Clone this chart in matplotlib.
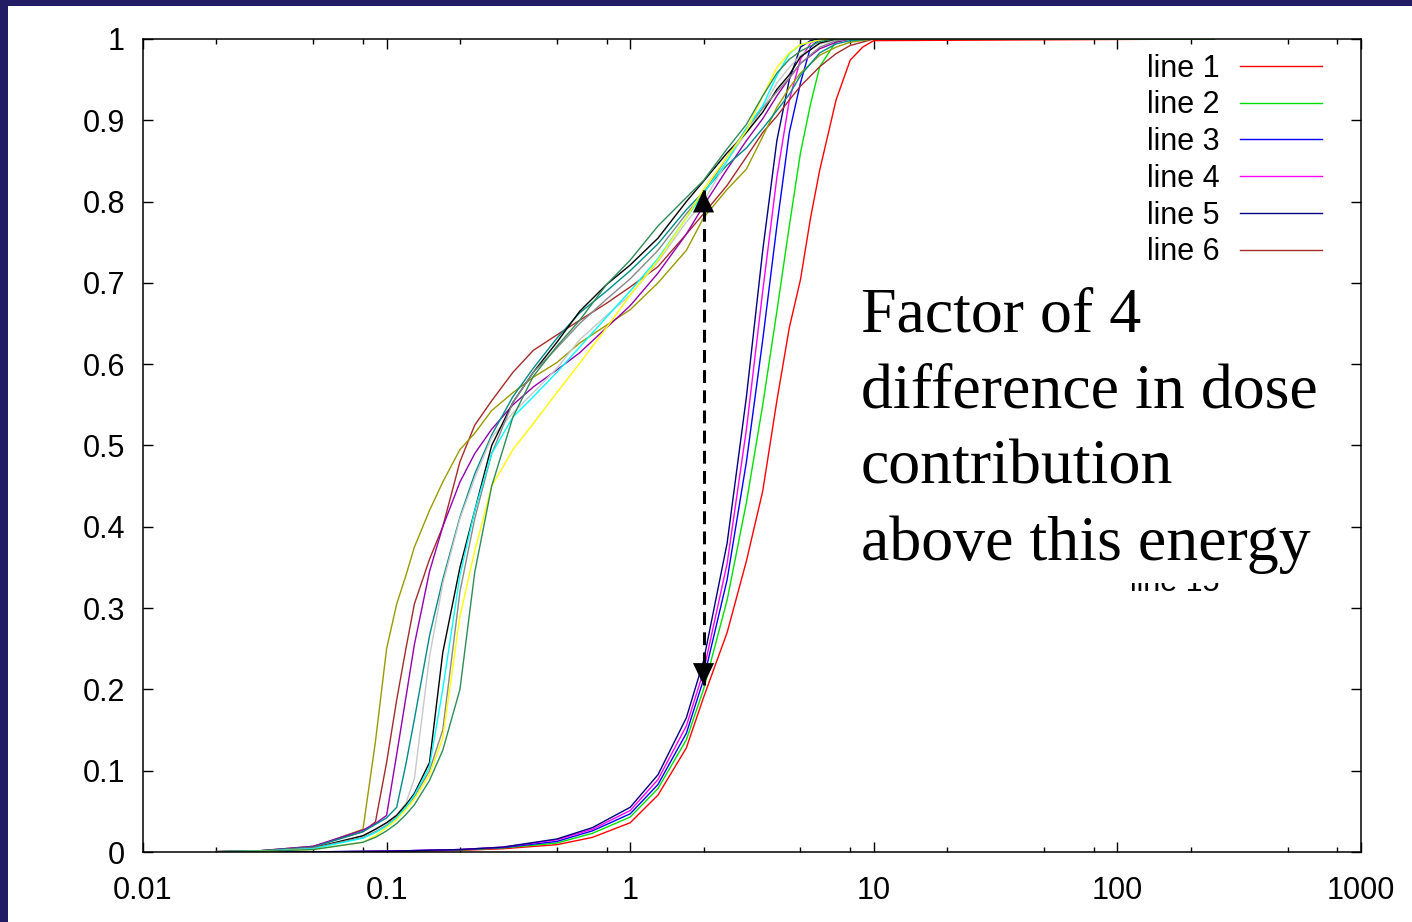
import matplotlib
matplotlib.use('Agg')
import matplotlib.pyplot as plt
from matplotlib.patches import Rectangle
from matplotlib.ticker import LogLocator, FixedLocator, FuncFormatter, NullLocator

# energy grid for the high-energy group (lines 1-5)
x_high = [0.02, 0.05, 0.1, 0.2, 0.3, 0.5, 0.7, 1.0, 1.3, 1.7, 2.0, 2.5, 3.0, 3.5,
          4.0, 4.5, 5.0, 5.5, 6.0, 7.0, 8.0, 9.0, 10, 250]
line1 = [0, 0.0001, 0.0005, 0.002, 0.004, 0.009, 0.018, 0.036, 0.07, 0.128, 0.19, 0.27,
         0.358, 0.444, 0.555, 0.645, 0.704, 0.78, 0.839, 0.925, 0.974, 0.99, 0.998, 1]
line2 = [0, 0.0001, 0.0008, 0.0025, 0.005, 0.011, 0.023, 0.043, 0.078, 0.138, 0.2, 0.31,
         0.43, 0.55, 0.665, 0.77, 0.86, 0.92, 0.966, 0.997, 1, 1, 1, 1]
line3 = [0, 0.0002, 0.001, 0.003, 0.0055, 0.013, 0.026, 0.047, 0.083, 0.146, 0.212, 0.335,
         0.48, 0.63, 0.77, 0.885, 0.946, 0.99, 1, 1, 1, 1, 1, 1]
line4 = [0, 0.0002, 0.001, 0.003, 0.006, 0.015, 0.028, 0.051, 0.089, 0.155, 0.222, 0.355,
         0.52, 0.69, 0.83, 0.925, 0.975, 0.995, 1, 1, 1, 1, 1, 1]
line5 = [0, 0.0002, 0.001, 0.003, 0.006, 0.016, 0.03, 0.055, 0.095, 0.165, 0.235, 0.38,
         0.56, 0.74, 0.875, 0.95, 0.99, 0.998, 1, 1, 1, 1, 1, 1]

# energy grid for the low-energy group (lines 6-15)
x_low = [0.02, 0.03, 0.05, 0.08, 0.09, 0.1, 0.11, 0.12, 0.13, 0.15, 0.17, 0.2, 0.23, 0.27,
         0.33, 0.4, 0.5, 0.62, 0.8, 1.0, 1.3, 1.7, 2.0, 2.5, 3.0, 3.5, 4.0, 4.5, 5.0,
         6.0, 7.0, 8.0, 10, 250]
line6 = [0.0005, 0.0015, 0.007, 0.025, 0.037, 0.11, 0.187, 0.25, 0.305, 0.36, 0.40, 0.48,
         0.525, 0.555, 0.59, 0.617, 0.636, 0.654, 0.675, 0.695, 0.72, 0.76, 0.785, 0.82,
         0.855, 0.885, 0.905, 0.925, 0.942, 0.966, 0.982, 0.992, 1, 1]
line7 = [0.0005, 0.001, 0.006, 0.028, 0.136, 0.25, 0.305, 0.34, 0.375, 0.42, 0.455, 0.495,
         0.515, 0.543, 0.565, 0.584, 0.602, 0.626, 0.648, 0.667, 0.70, 0.74, 0.78, 0.815,
         0.84, 0.88, 0.916, 0.94, 0.958, 0.98, 0.99, 0.996, 1, 1]
line8 = [0.0005, 0.0015, 0.007, 0.027, 0.035, 0.045, 0.12, 0.19, 0.255, 0.345, 0.40, 0.455,
         0.49, 0.52, 0.55, 0.572, 0.593, 0.614, 0.645, 0.672, 0.712, 0.76, 0.795, 0.84,
         0.875, 0.902, 0.93, 0.952, 0.97, 0.988, 0.996, 1, 1, 1]
line9 = [0.0005, 0.0015, 0.006, 0.025, 0.034, 0.042, 0.055, 0.108, 0.163, 0.266, 0.335, 0.412,
         0.465, 0.513, 0.56, 0.595, 0.632, 0.663, 0.69, 0.715, 0.748, 0.79, 0.812, 0.845,
         0.866, 0.89, 0.912, 0.932, 0.955, 0.983, 0.994, 0.998, 1, 1]
line10 = [0.0003, 0.001, 0.005, 0.02, 0.028, 0.036, 0.046, 0.06, 0.09, 0.24, 0.33, 0.41,
          0.46, 0.51, 0.54, 0.565, 0.595, 0.63, 0.66, 0.685, 0.726, 0.775, 0.8, 0.85,
          0.885, 0.915, 0.946, 0.965, 0.98, 0.994, 0.999, 1, 1, 1]
line11 = [0.0003, 0.001, 0.005, 0.02, 0.028, 0.036, 0.045, 0.058, 0.072, 0.11, 0.245, 0.35,
          0.42, 0.50, 0.553, 0.59, 0.627, 0.665, 0.698, 0.722, 0.755, 0.8, 0.825, 0.86,
          0.885, 0.91, 0.938, 0.956, 0.978, 0.995, 1, 1, 1, 1]
line12 = [0.0003, 0.001, 0.005, 0.018, 0.025, 0.033, 0.043, 0.055, 0.068, 0.1, 0.15, 0.32,
          0.41, 0.49, 0.553, 0.59, 0.62, 0.65, 0.68, 0.705, 0.74, 0.785, 0.81, 0.855,
          0.89, 0.915, 0.935, 0.952, 0.97, 0.99, 0.998, 1, 1, 1]
line13 = [0.0003, 0.001, 0.004, 0.017, 0.024, 0.032, 0.042, 0.055, 0.07, 0.105, 0.2, 0.34,
          0.42, 0.49, 0.535, 0.56, 0.59, 0.621, 0.658, 0.69, 0.73, 0.78, 0.81, 0.85,
          0.89, 0.918, 0.955, 0.982, 0.993, 0.999, 1, 1, 1, 1]
line14 = [0.0002, 0.0008, 0.003, 0.012, 0.02, 0.03, 0.04, 0.052, 0.065, 0.095, 0.14, 0.29,
          0.37, 0.45, 0.495, 0.527, 0.565, 0.601, 0.645, 0.685, 0.728, 0.78, 0.815, 0.855,
          0.887, 0.93, 0.965, 0.983, 0.993, 0.999, 1, 1, 1, 1]
line15 = [0.0002, 0.0008, 0.003, 0.012, 0.018, 0.026, 0.035, 0.046, 0.058, 0.088, 0.125, 0.2,
          0.344, 0.45, 0.535, 0.585, 0.622, 0.654, 0.698, 0.728, 0.77, 0.805, 0.826, 0.865,
          0.895, 0.93, 0.958, 0.975, 0.985, 0.997, 1, 1, 1, 1]

high_lines = [line1, line2, line3, line4, line5]
low_lines = [line6, line7, line8, line9, line10, line11, line12, line13, line14, line15]
colors = ['#ff0000', '#00e000', '#0000ff', '#ff00ff', '#000080', '#a52a2a',
          '#9a9a00', '#9400b0', '#008b8b', '#c8c8c8', '#000000', '#888888',
          '#00ffff', '#ffff00', '#2e8b57']

x_ticks = [0.01, 0.1, 1, 10, 100, 1000]
y_ticks = [0, 0.1, 0.2, 0.3, 0.4, 0.5, 0.6, 0.7, 0.8, 0.9, 1]
arrow_x = 2.0
arrow_y = (0.205, 0.814)
note = 'Factor of 4\ndifference in dose\ncontribution\nabove this energy'

plt.rcParams['font.family'] = ['Liberation Sans', 'DejaVu Sans']

W, H = 1412, 922
fig = plt.figure(figsize=(W / 100, H / 100), dpi=100, facecolor='#221c64')
# white slide panel
fig.add_artist(Rectangle((8 / W, 0), 1 - 8 / W, 1 - 6 / H, transform=fig.transFigure,
                         facecolor='white', edgecolor='none', zorder=-1))

ax = fig.add_axes([143 / W, 70 / H, 1218 / W, 813 / H])
ax.set_facecolor('white')

n = 0
for ys in high_lines:
    ax.plot(x_high, ys, color=colors[n], lw=1.0, label='line %d' % (n + 1))
    n += 1
for ys in low_lines:
    ax.plot(x_low, ys, color=colors[n], lw=1.0, label='line %d' % (n + 1))
    n += 1

# dashed double arrow: dashed shaft plus two solid heads
ax.plot([arrow_x, arrow_x], arrow_y, color='black', lw=2.2,
        linestyle=(0, (4.2, 2.4)), zorder=4)
head = dict(arrowstyle='-|>,head_length=0.8,head_width=0.38', color='black', lw=0,
            mutation_scale=20, shrinkA=0, shrinkB=0)
ax.annotate('', xy=(arrow_x, arrow_y[1]), xytext=(arrow_x, 0.5), arrowprops=head, zorder=4)
ax.annotate('', xy=(arrow_x, arrow_y[0]), xytext=(arrow_x, 0.5), arrowprops=head, zorder=4)

ax.set_xscale('log')
ax.set_xlim(0.01, 1000)
ax.set_ylim(0, 1)
ax.xaxis.set_major_locator(FixedLocator(x_ticks))
ax.xaxis.set_minor_locator(LogLocator(base=10, subs=[2, 5, 8]))
ax.xaxis.set_major_formatter(FuncFormatter(lambda v, p: '%g' % v))
ax.yaxis.set_major_locator(FixedLocator(y_ticks))
ax.yaxis.set_minor_locator(NullLocator())
ax.yaxis.set_major_formatter(FuncFormatter(lambda v, p: '%g' % v))
ax.tick_params(which='both', direction='in', top=True, right=True, width=1)
ax.tick_params(which='major', length=7, labelsize=22)
ax.tick_params(axis='y', which='major', pad=13)
ax.tick_params(axis='x', which='major', pad=17)
ax.tick_params(which='minor', length=3.5)
for s in ax.spines.values():
    s.set_linewidth(1.1)

ax.legend(loc='upper right', bbox_to_anchor=(0.968, 0.982), frameon=False,
          markerfirst=False, fontsize=22, handlelength=2.7, handletextpad=0.65,
          labelspacing=0.22, borderpad=0, borderaxespad=0)

# white text box that sits over the lower legend entries
fig.add_artist(Rectangle((852 / W, (H - 583) / H), 485 / W, 318 / H, transform=fig.transFigure,
                         facecolor='white', edgecolor='none', zorder=5))
fig.text(861 / W, (H - 287) / H, note, ha='left', va='top', fontsize=46,
         family=['Liberation Serif', 'DejaVu Serif'], linespacing=1.41, zorder=6)

fig.savefig('out.png', dpi=100, facecolor=fig.get_facecolor())
